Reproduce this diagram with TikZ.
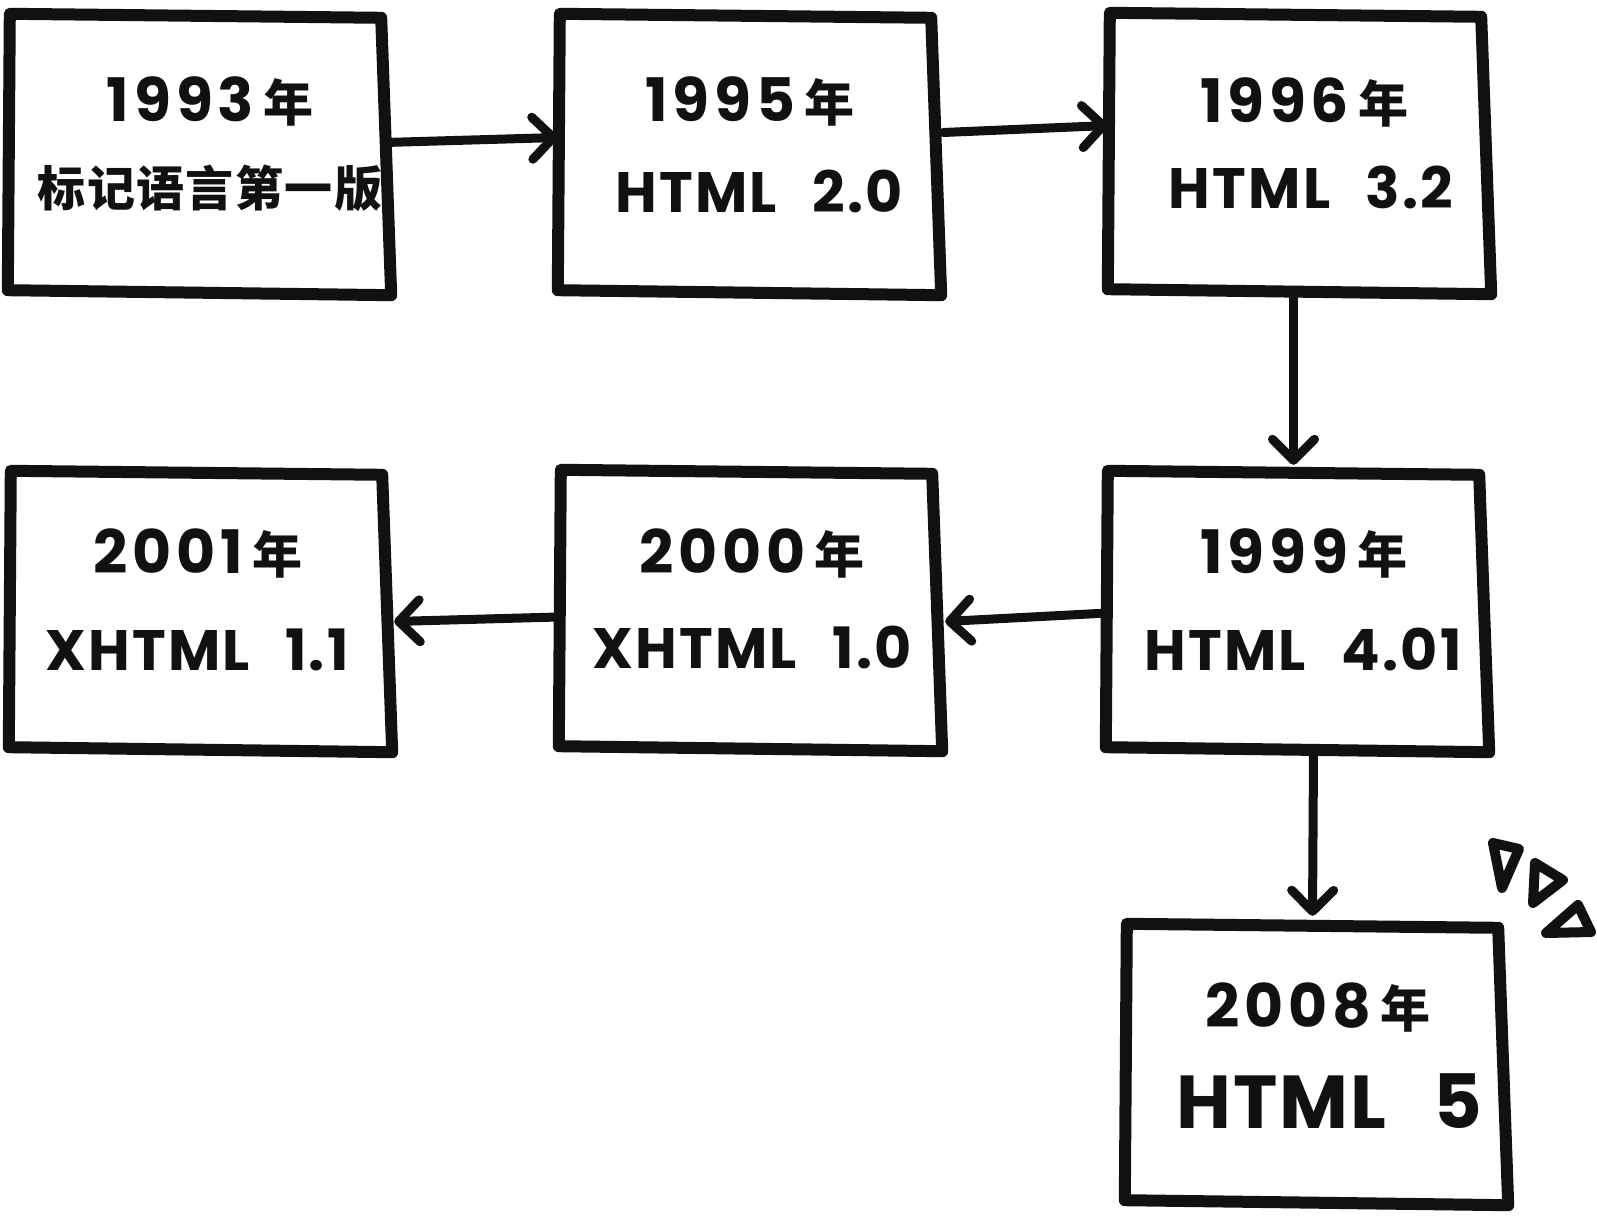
\documentclass[tikz,border=0pt]{standalone}
\usepackage{fontspec}
\setmainfont{Poppins}
\newfontfamily\cjk{Noto Sans CJK SC}
\usetikzlibrary{arrows.meta,calc}
\definecolor{ink}{HTML}{111111}
\newcommand\nian{\hspace{9pt}{\cjk\bfseries\fontsize{50}{50}\selectfont 年}}
\newcommand\gap{\hspace{0.62em}}
\newcommand\skbox[1]{\draw[sk] (#1.north west) -- ($(#1.north east)+(0,4)$) -- ($(#1.south east)+(10,4)$) -- ($(#1.south west)+(-2,-1)$) -- cycle;}
\begin{document}
\begin{tikzpicture}[x=1pt,y=-1pt,
  boxnode/.style={rectangle, minimum width=371pt, minimum height=277pt, inner sep=0pt},
  sk/.style={draw=ink, line width=12pt, line join=round, line cap=round, fill=white},
  conn/.style={draw=ink, line width=9pt, line cap=round, line join=round,
     -{Straight Barb[length=21pt,width=42pt,round]}},
  yr/.style={anchor=base, inner sep=0pt, text=ink, font=\bfseries\fontsize{60}{60}\selectfont\addfontfeatures{LetterSpace=8}},
  ver/.style={anchor=base, inner sep=0pt, text=ink, font=\bfseries\fontsize{57}{57}\selectfont\addfontfeatures{LetterSpace=4}},
  big/.style={anchor=base, inner sep=0pt, text=ink, font=\bfseries\fontsize{75}{75}\selectfont\addfontfeatures{LetterSpace=3}},
  zh/.style={anchor=base, inner sep=0pt, text=ink, font=\cjk\bfseries\fontsize{48}{48}\selectfont\addfontfeatures{LetterSpace=3}},
  tri/.style={draw=ink, line width=10pt, line join=round}]
\fill[white] (0,0) rectangle (1597,1217);
\useasboundingbox (0,0) rectangle (1597,1217);

% box nodes
\node[boxnode] (b1) at (195.5,152.5) {};
\node[boxnode] (b2) at (745.5,152.5) {};
\node[boxnode] (b3) at (1295.5,151.5) {};
\node[boxnode] (b4) at (1293.5,609.5) {};
\node[boxnode] (b5) at (746.5,608.5) {};
\node[boxnode] (b6) at (196.5,609.5) {};
\node[boxnode] (b7) at (1312.5,1062.5) {};

% outlines
\skbox{b1}\skbox{b2}\skbox{b3}\skbox{b4}\skbox{b5}\skbox{b6}\skbox{b7}

% texts
\node[yr] (t1a) at (210,122) {1993\nian};
\node[zh] (t1b) at (210,206) {标记语言第一版};
\node[yr] (t2a) at (750,122) {1995\nian};
\node[ver] (t2b) at (759,212) {HTML\gap 2.0};
\node[yr] (t3a) at (1304,123) {1996\nian};
\node[ver] (t3b) at (1311,208) {HTML\gap 3.2};
\node[yr] (t4a) at (1304,573) {1999\nian};
\node[ver] (t4b) at (1303,670) {HTML\gap 4.01};
\node[yr] (t5a) at (752,573) {2000\nian};
\node[ver] (t5b) at (752,668) {XHTML\gap 1.0};
\node[yr] (t6a) at (198,573) {2001\nian};
\node[ver] (t6b) at (197,670) {XHTML\gap 1.1};
\node[yr] (t7a) at (1318,1027) {2008\nian};
\node[big] (t7b) at (1329,1128) {HTML\gap 5};

% connectors
\draw[conn] ($(b1.east)+(4,-10)$) -- ($(b2.west)+(-2,-15)$);
\draw[conn] ($(b2.east)+(12,-20)$) -- ($(b3.west)+(-2,-26)$);
\draw[conn] ($(b3.south)+(-2,6)$) -- ($(b4.north)+(0,-6)$);
\draw[conn] ($(b4.west)+(0,3.5)$) -- ($(b5.east)+(13,13)$);
\draw[conn] ($(b5.west)+(-3,8.5)$) -- ($(b6.east)+(12,12)$);
\draw[conn] ($(b4.south)+(20,5)$) -- ($(b7.north)+(0,-8)$);

% decorative triangles
\draw[tri] (1493,843) -- (1519,849) -- (1502,888) -- cycle;
\draw[tri] (1535,863) -- (1563,880) -- (1533,903) -- cycle;
\draw[tri] (1546,933) -- (1578,905) -- (1591,932) -- cycle;
\end{tikzpicture}
\end{document}
